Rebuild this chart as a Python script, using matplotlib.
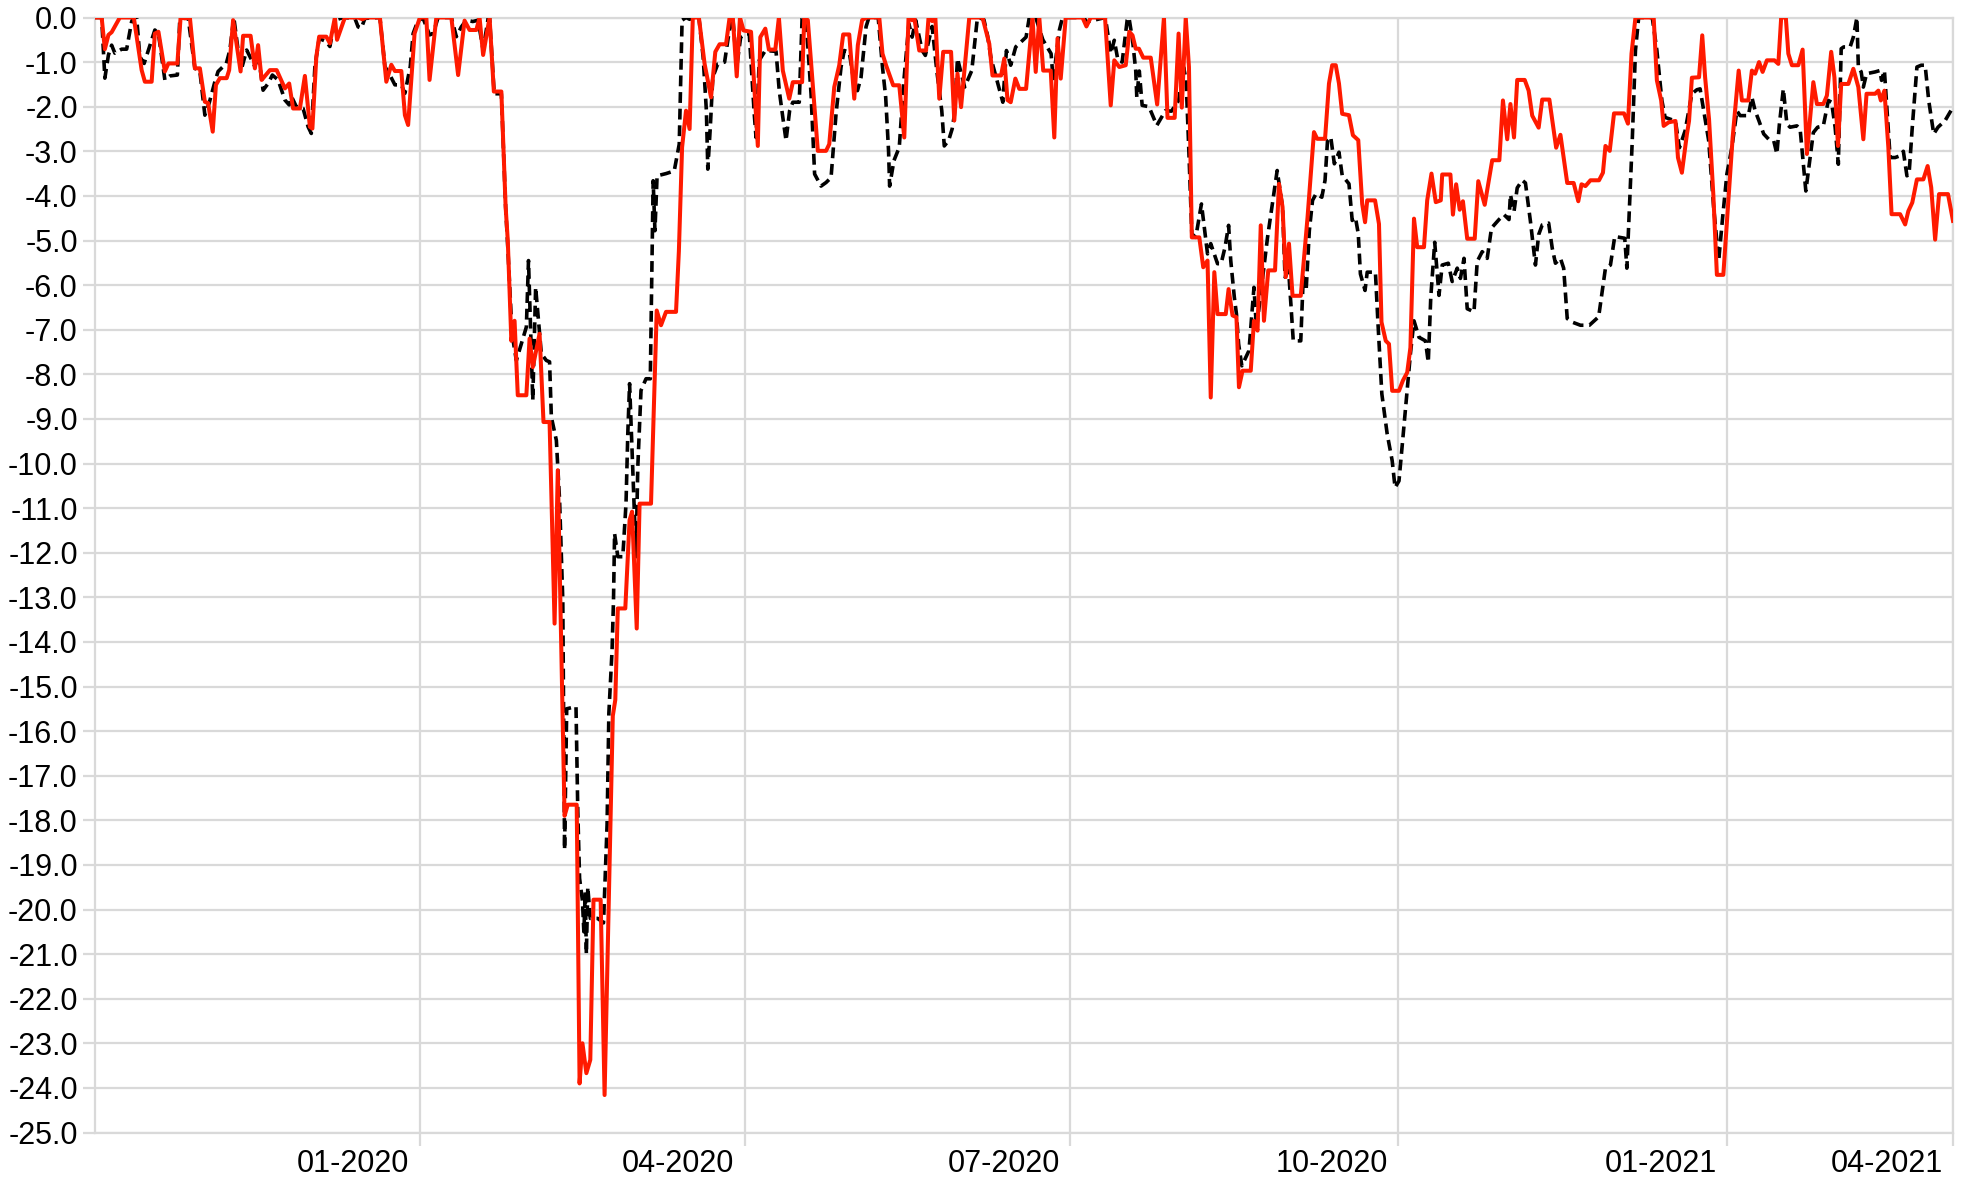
import matplotlib
matplotlib.use("Agg")
import matplotlib.pyplot as plt
import matplotlib.dates as mdates
import matplotlib.transforms as mtransforms
from matplotlib import font_manager
from matplotlib.ticker import FormatStrFormatter, MultipleLocator
import datetime as dt

# ---------------- data (days since 2019-10-02, drawdown in %) ----------------
start_date = dt.datetime(2019, 10, 2)
end_day = 520.3

red_days = [0, 2.0, 2.9, 3.9, 4.8, 7.1, 11.0, 13.2, 14.1, 16.0, 16.9, 17.9, 19.7, 20.7, 23.2, 24.1, 25.3, 26.7,
            28.1, 29.5, 30.9, 31.8, 33.1, 34.0, 35.1, 37.0, 37.7, 38.8, 40.9, 41.6, 43.7, 44.9, 45.8, 46.8, 49.1,
            51.0, 53.3, 54.5, 55.6, 57.5, 58.9, 60.3, 61.0, 62.1, 62.9, 64.9, 65.9, 67.3, 67.9, 70.1, 73.8, 75.0,
            76.1, 79.9, 81.7, 83.1, 84.1, 85.9, 86.9, 87.8, 89.6, 91.1, 92.9, 93.8, 95.7, 99.9, 101.8, 103.6,
            105.0, 106.9, 107.8, 108.8, 110.6, 111.8, 113.9, 115.1, 115.7, 116.7, 117.6, 118.5, 120.9, 121.8,
            122.7, 124.6, 125.7, 127.4, 128.8, 129.7, 131.6, 132.5, 135.0, 135.8, 136.6, 137.7, 138.8, 139.7,
            141.7, 142.8, 145.1, 145.8, 146.5, 148.6, 149.8, 150.5, 151.8, 152.6, 155.8, 157.4, 158.6, 160.0,
            162.8, 163.6, 164.5, 165.6, 166.6, 167.5, 169.2, 170.8, 172.6, 173.8, 175.0, 176.8, 177.8, 178.7,
            179.8, 180.7, 181.7, 183.8, 185.7, 186.4, 187.8, 188.8, 190.6, 191.6, 192.7, 194.5, 195.5, 198.1,
            198.7, 199.7, 202.5, 204.8, 205.7, 207.1, 208.5, 209.6, 211.3, 212.7, 213.7, 214.9, 216.2, 219.7,
            220.6, 221.6, 223.6, 225.3, 226.7, 227.9, 228.9, 229.5, 230.9, 232.8, 233.5, 234.5, 235.4, 236.5,
            237.6, 239.8, 240.7, 241.6, 242.6, 244.9, 248.6, 250.5, 251.4, 253.8, 254.7, 255.6, 256.5, 257.8,
            258.9, 260.8, 262.6, 263.5, 264.5, 265.6, 267.7, 268.7, 269.6, 270.5, 271.9, 276.6, 277.7, 278.9,
            282.9, 284.5, 285.5, 286.9, 288.7, 289.7, 290.6, 291.5, 292.4, 293.6, 295.7, 297.5, 299.4, 300.4,
            302.4, 303.5, 304.4, 305.5, 306.4, 307.2, 309.3, 310.4, 311.6, 312.5, 313.5, 314.4, 316.7, 317.5,
            318.6, 319.7, 320.4, 321.4, 323.7, 324.6, 325.6, 326.5, 327.4, 328.6, 330.5, 331.6, 332.6, 333.5,
            334.4, 335.4, 337.7, 339.6, 341.4, 342.3, 344.5, 345.6, 346.5, 347.5, 348.4, 349.3, 351.2, 352.3,
            353.8, 354.9, 355.7, 356.3, 358.5, 359.6, 360.3, 361.5, 362.4, 363.3, 365.2, 366.3, 367.5, 368.4,
            369.4, 370.3, 372.2, 373.1, 374.3, 375.5, 376.9, 377.3, 379.6, 380.3, 381.2, 382.2, 383.1, 384.3,
            386.4, 387.4, 389.2, 391.3, 393.3, 394.3, 395.5, 396.4, 397.4, 398.3, 400.4, 401.5, 402.5, 404.3,
            405.3, 407.3, 409.2, 410.4, 412.3, 414.1, 415.4, 416.3, 417.4, 418.8, 421.2, 422.3, 423.0, 424.2,
            425.4, 428.2, 429.3, 430.3, 431.4, 436.5, 437.4, 438.6, 439.3, 440.7, 442.6, 443.3, 444.4, 445.8,
            446.4, 447.2, 449.2, 450.1, 450.9, 452.0, 453.2, 454.2, 456.0, 457.5, 458.6, 460.3, 461.2, 463.0,
            464.0, 464.9, 466.0, 467.0, 468.2, 470.3, 471.4, 472.2, 473.5, 474.2, 475.2, 477.0, 478.2, 479.4,
            481.2, 482.2, 484.0, 485.0, 486.2, 487.1, 488.1, 489.0, 491.0, 492.4, 493.8, 495.2, 496.1, 498.5,
            499.4, 500.1, 501.1, 502.2, 503.1, 505.5, 506.9, 507.8, 508.9, 510.2, 512.0, 513.2, 514.2, 515.3,
            516.4, 518.9, 520.3]
red_vals = [0, 0, -0.71, -0.39, -0.33, 0, 0, -1.18, -1.44, -1.44, -0.36, -0.32, -1.21, -1.03, -1.03, 0, -0.02, 0,
            -1.14, -1.14, -1.89, -1.92, -2.56, -1.51, -1.36, -1.36, -1.18, -0.06, -1.21, -0.41, -0.41, -1.14, -0.62,
            -1.40, -1.18, -1.18, -1.59, -1.48, -2.04, -2.04, -1.31, -2.45, -2.49, -0.88, -0.43, -0.43, -0.58, 0,
            -0.50, 0, 0, -0.04, 0, 0, -1.44, -1.06, -1.20, -1.20, -2.19, -2.41, -0.36, 0, 0, -1.40, 0, 0, -1.29,
            -0.07, -0.28, -0.28, 0, -0.84, 0, -1.66, -1.66, -4.25, -5.0, -7.25, -6.8, -8.47, -8.47, -7.2, -7.84,
            -7.09, -9.07, -9.07, -13.59, -10.15, -17.9, -17.65, -17.65, -23.9, -23.0, -23.67, -23.37, -19.78,
            -19.78, -24.16, -15.66, -15.3, -13.25, -13.25, -11.27, -11.08, -13.7, -10.9, -10.9, -6.57, -6.9, -6.6,
            -6.6, -5.24, -2.91, -2.09, -2.5, 0, 0, -1.04, -1.79, -0.77, -0.6, -0.6, 0, 0, -1.32, 0, -0.29, -0.32,
            -2.88, -0.44, -0.25, -0.72, -0.72, 0, -1.19, -1.82, -1.45, -1.45, 0, -0.06, -2.99, -2.99, -2.84, -1.56,
            -1.07, -0.38, -0.38, -1.82, -0.62, -0.06, 0, 0, -0.81, -1.07, -1.52, -1.52, -2.69, 0, -0.06, 0, -0.74,
            -0.74, 0, -0.08, 0, -1.82, -0.77, -0.77, -2.31, -1.26, -2.01, 0, 0, -0.59, -1.3, -1.3, -0.92, -1.85,
            -1.9, -1.37, -1.6, -1.6, 0, -1.22, 0, -1.19, -1.19, -2.69, -0.47, -1.37, 0, 0, -0.2, 0, 0, -1.97, -0.96,
            -1.11, -1.07, -0.32, -0.4, -0.7, -0.7, -0.9, -0.9, -1.95, 0, -2.25, -2.25, -0.36, -2.02, 0, -1.11,
            -4.93, -4.93, -5.6, -5.45, -8.52, -5.71, -6.65, -6.65, -6.09, -6.68, -6.72, -8.29, -7.92, -7.92, -6.8,
            -7.02, -4.66, -6.8, -5.67, -5.67, -3.73, -4.25, -5.82, -5.07, -6.24, -6.24, -4.48, -2.57, -2.72, -2.72,
            -1.48, -1.07, -1.07, -1.48, -2.16, -2.19, -2.64, -2.75, -4.18, -4.59, -4.1, -4.1, -4.63, -6.83, -7.25,
            -7.32, -8.37, -8.37, -8.14, -7.96, -7.4, -4.51, -5.15, -5.15, -4.1, -3.5, -4.14, -4.1, -3.52, -3.52,
            -4.42, -3.74, -4.31, -4.12, -4.96, -4.96, -3.67, -4.2, -3.2, -3.2, -1.86, -2.73, -1.94, -2.69, -1.4,
            -1.4, -1.64, -2.2, -2.47, -1.84, -1.84, -2.92, -2.63, -3.71, -3.71, -4.12, -3.74, -3.78, -3.65, -3.65,
            -3.48, -2.88, -2.99, -2.15, -2.15, -2.38, -0.81, 0, 0, -1.41, -1.86, -2.43, -2.35, -2.32, -3.14, -3.48,
            -2.62, -2.32, -1.35, -1.34, -0.4, -1.34, -2.28, -3.97, -5.77, -5.77, -4.0, -2.7, -1.19, -1.86, -1.86,
            -1.19, -1.26, -1.0, -1.22, -0.96, -0.96, -1.04, 0, 0, -0.81, -1.07, -1.07, -0.72, -3.06, -1.45, -1.94,
            -1.94, -1.75, -0.77, -1.34, -2.88, -1.49, -1.49, -1.15, -1.56, -2.73, -1.71, -1.71, -1.64, -1.86, -1.64,
            -2.91, -4.41, -4.41, -4.64, -4.34, -4.15, -3.63, -3.63, -3.33, -3.81, -4.98, -3.96, -3.96, -4.56]

black_days = [0, 2.0, 2.9, 3.9, 4.8, 5.7, 7.6, 9.0, 10.4, 10.9, 11.8, 12.7, 13.9, 16.9, 17.9, 19.7, 21.1, 23.2,
              23.9, 26.2, 28.1, 29.5, 30.9, 32.1, 33.7, 34.6, 36.9, 37.9, 39.0, 40.2, 41.2, 42.6, 44.9, 45.8, 47.2,
              48.6, 49.8, 51.4, 53.3, 54.5, 55.2, 56.5, 58.4, 59.8, 60.7, 61.7, 62.9, 64.9, 65.9, 67.3, 69.6, 72.9,
              73.8, 74.7, 75.7, 79.9, 81.3, 82.7, 84.1, 85.9, 86.9, 88.4, 89.2, 90.6, 92.0, 93.8, 94.8, 96.2, 99.9,
              101.3, 102.7, 104.1, 105.9, 107.4, 108.8, 110.2, 110.6, 111.9, 113.9, 115.1, 115.7, 116.9, 118.1,
              120.9, 121.5, 122.7, 123.5, 125.1, 126.5, 127.4, 127.9, 129.3, 130.2, 131.1, 131.6, 132.2, 134.8,
              135.3, 135.8, 136.6, 137.0, 137.4, 137.7, 138.1, 138.8, 140.9, 142.5, 143.5, 144.0, 144.9, 145.3,
              145.6, 146.5, 147.9, 148.8, 149.3, 149.8, 150.5, 151.6, 152.1, 153.0, 154.4, 155.6, 156.4, 156.9,
              157.5, 160.0, 162.3, 163.7, 164.5, 165.6, 166.6, 167.5, 169.2, 170.4, 171.3, 171.7, 172.4, 173.1,
              174.5, 176.4, 177.7, 178.7, 179.8, 180.9, 182.3, 183.3, 184.7, 185.2, 186.1, 187.8, 190.8, 191.7,
              192.7, 193.6, 194.6, 195.5, 197.3, 198.1, 199.2, 200.6, 201.6, 203.4, 204.8, 206.2, 207.6, 209.0,
              209.9, 211.3, 212.7, 213.6, 214.6, 216.0, 216.8, 219.4, 220.6, 221.5, 222.3, 222.6, 223.8, 225.3,
              226.5, 228.0, 228.9, 229.9, 231.7, 232.6, 233.8, 234.5, 235.8, 237.2, 237.9, 239.1, 240.1, 240.7,
              241.6, 243.6, 245.6, 247.1, 247.6, 249.0, 250.0, 251.0, 254.3, 255.3, 256.5, 257.9, 260.8, 261.7,
              263.5, 265.5, 267.8, 268.4, 270.1, 271.0, 277.0, 277.7, 283.0, 284.5, 285.5, 286.5, 287.7, 289.1,
              289.6, 290.6, 291.5, 291.8, 292.5, 293.3, 295.2, 297.4, 299.8, 301.5, 303.5, 304.9, 305.6, 306.4,
              307.2, 308.3, 309.9, 311.6, 312.5, 314.4, 315.4, 316.5, 317.5, 318.1, 319.1, 319.7, 320.3, 321.2,
              323.2, 324.6, 325.3, 328.4, 331.1, 332.6, 333.3, 334.3, 335.0, 335.6, 337.7, 338.4, 339.2, 340.1,
              341.0, 342.0, 343.6, 344.5, 345.2, 346.1, 347.1, 348.4, 349.3, 351.2, 352.1, 353.0, 353.8, 354.4,
              355.7, 356.3, 358.6, 359.3, 360.4, 361.9, 363.3, 364.1, 365.2, 366.3, 368.4, 369.4, 370.8, 372.6,
              373.4, 374.1, 375.2, 376.4, 377.3, 379.0, 380.1, 381.5, 382.4, 383.4, 384.3, 386.2, 387.1, 388.5,
              389.9, 391.1, 393.2, 394.6, 396.0, 396.4, 397.4, 398.3, 399.7, 400.6, 402.0, 403.4, 404.3, 405.3,
              407.1, 408.1, 409.0, 410.4, 411.3, 412.3, 413.7, 416.0, 418.5, 421.1, 423.0, 424.4, 425.6, 428.4,
              429.0, 430.5, 431.4, 432.3, 436.1, 437.4, 438.8, 439.7, 442.6, 443.7, 445.3, 447.2, 448.6, 449.5,
              451.9, 453.3, 454.7, 455.8, 457.0, 458.4, 459.8, 460.7, 463.0, 464.0, 464.9, 465.9, 467.3, 468.7,
              470.1, 471.0, 471.7, 472.8, 473.8, 474.7, 476.6, 477.5, 479.1, 481.2, 482.4, 484.0, 485.4, 486.3,
              487.3, 488.2, 489.0, 489.7, 491.5, 492.4, 493.4, 493.8, 494.6, 495.2, 496.1, 498.5, 499.8, 500.3,
              501.1, 502.7, 504.1, 505.5, 506.4, 507.4, 508.0, 508.9, 510.2, 511.4, 512.5, 513.5, 514.9, 516.1,
              518.1, 520.3]
black_vals = [0, 0, -1.36, -0.84, -0.62, -0.80, -0.71, -0.71, -0.09, 0, 0, -0.88, -1.03, -0.28, -0.36, -1.40,
              -1.31, -1.29, 0, 0, -1.14, -1.21, -2.19, -1.92, -1.44, -1.21, -1.03, -0.73, 0, -0.73, -1.14, -0.73,
              -1.10, -0.80, -1.63, -1.48, -1.29, -1.40, -1.85, -1.96, -1.78, -2.0, -2.04, -2.45, -2.60, -1.10, -0.47,
              -0.54, -0.65, -0.06, 0, -0.02, -0.21, -0.24, -0.02, 0, -1.10, -1.29, -1.51, -1.51, -1.70, -1.10, -0.36,
              -0.06, -0.02, -0.39, -0.36, 0, 0, -0.43, -0.21, -0.06, -0.09, -0.06, -0.73, -0.02, 0, -1.71, -1.71,
              -4.25, -5.15, -7.1, -7.69, -6.94, -5.45, -8.58, -6.05, -7.54, -7.69, -7.72, -8.96, -9.48, -10.82,
              -13.06, -18.66, -15.5, -15.45, -17.8, -19.3, -19.8, -20.5, -19.6, -21.0, -19.5, -20.2, -20.2, -20.3,
              -18.1, -15.6, -14.18, -13.06, -11.57, -12.09, -12.09, -10.9, -9.33, -8.21, -9.7, -12.09, -10.08,
              -8.36, -8.1, -8.1, -3.66, -4.78, -3.55, -3.5, -3.44, -2.84, -0.06, 0, -0.04, 0, 0, -0.89, -2.09, -3.4,
              -2.46, -1.34, -1.04, -1.0, -0.3, 0, -1.1, -0.44, -0.36, -0.36, -2.16, -2.69, -0.96, -0.74, -0.76,
              -1.64, -2.24, -2.76, -2.09, -1.9, -1.9, 0, -0.06, -1.71, -3.51, -3.78, -3.7, -3.59, -2.16, -1.11, -0.74,
              -0.78, -1.49, -1.64, -1.34, -0.21, 0, 0, -1.11, -1.79, -2.99, -3.78, -3.21, -2.91, -1.5, -0.14, -0.44,
              -0.06, -0.74, -0.85, -0.44, -0.2, -1.19, -2.09, -2.88, -2.76, -2.5, -2.2, -0.92, -1.56, -1.19, -0.06,
              0, -0.05, -0.4, -0.92, -1.9, -0.74, -1.07, -0.66, -0.44, 0, 0, -0.5, -0.81, -1.41, -0.29, 0, 0, -0.1,
              0, -0.81, -0.51, -0.95, -1.0, -0.06, 0, -0.5, -1.19, -1.79, -1.2, -1.97, -2.0, -2.42, -2.09, -2.1,
              -1.86, -1.11, -1.4, -3.05, -4.85, -4.93, -4.18, -5.3, -5.07, -5.52, -5.52, -5.15, -4.66, -5.45, -6.27,
              -6.65, -7.32, -7.81, -7.47, -6.05, -6.98, -4.93, -3.43, -4.25, -5.82, -5.67, -6.5, -7.25, -7.25, -5.82,
              -6.12, -4.78, -4.1, -3.95, -4.03, -3.65, -2.75, -2.68, -3.28, -3.02, -3.54, -3.73, -4.55, -4.48, -4.85,
              -5.75, -6.12, -5.71, -5.71, -6.83, -8.44, -9.34, -9.94, -10.54, -10.39, -9.42, -7.54, -6.8, -7.17,
              -7.25, -7.73, -6.27, -5.04, -6.23, -5.55, -5.51, -5.92, -5.62, -5.85, -5.4, -6.53, -6.6, -5.47, -5.25,
              -5.4, -4.72, -4.53, -4.42, -4.53, -3.97, -4.35, -3.82, -3.65, -3.71, -4.57, -5.55, -4.87, -4.65, -4.61,
              -5.17, -5.51, -5.4, -5.62, -6.75, -6.83, -6.9, -6.9, -6.71, -5.62, -5.55, -4.91, -4.95, -5.62, -2.77,
              -0.74, 0, 0, -0.74, -1.86, -2.24, -2.32, -2.92, -2.54, -1.71, -1.62, -1.6, -2.76, -4.26, -5.45, -4.49,
              -3.51, -2.91, -2.09, -2.2, -2.2, -1.79, -2.09, -2.3, -2.61, -2.73, -2.76, -3.06, -2.39, -1.6, -2.39,
              -2.46, -2.43, -2.5, -3.89, -2.58, -2.46, -2.43, -1.86, -1.9, -2.46, -3.29, -0.7, -0.66, -0.66, -0.44,
              0, -1.11, -1.22, -1.56, -1.26, -1.22, -1.19, -1.41, -1.19, -3.14, -3.14, -3.1, -3.0, -3.55, -3.51,
              -2.46, -1.11, -1.07, -1.07, -1.86, -2.61, -2.46, -2.31, -2.01]

tick_dates = [dt.datetime(2020, 1, 1), dt.datetime(2020, 4, 1), dt.datetime(2020, 7, 1),
              dt.datetime(2020, 10, 1), dt.datetime(2021, 1, 1)]
tick_labels = ["01-2020", "04-2020", "07-2020", "10-2020", "01-2021", "04-2021"]

# ---------------- styling ----------------
names = {f.name for f in font_manager.fontManager.ttflist}
family = "Liberation Sans Narrow" if "Liberation Sans Narrow" in names else "Liberation Sans"
plt.rcParams["font.family"] = [family, "DejaVu Sans"]

W, H, DPI = 1971, 1183, 100
fig = plt.figure(figsize=(W / DPI, H / DPI), dpi=DPI)
left, right, top, bottom = 94.5, 1953, 17.5, 1132.5
ax = fig.add_axes([left / W, 1 - bottom / H, (right - left) / W, (bottom - top) / H])

x0 = mdates.date2num(start_date)
red_x = [x0 + d for d in red_days]
black_x = [x0 + d for d in black_days]

grid_c = "#d9d9d9"
ax.plot(black_x, black_vals, color="black", lw=2.6, ls=(0, (3.0, 1.6)), zorder=3)
ax.plot(red_x, red_vals, color="#ff1a00", lw=2.9, zorder=4)

ax.set_xlim(x0, x0 + end_day)
ax.set_ylim(-25, 0)

# y axis
ax.yaxis.set_major_locator(MultipleLocator(1))
ax.yaxis.set_major_formatter(FormatStrFormatter("%.1f"))
# x axis: gridlines at quarter starts + right edge
xt = [mdates.date2num(d) for d in tick_dates] + [x0 + end_day]
ax.set_xticks(xt)
ax.set_xticklabels(tick_labels)

ax.grid(True, color=grid_c, lw=1.6, zorder=0)
ax.set_axisbelow(True)
for s in ax.spines.values():
    s.set_color(grid_c)
    s.set_linewidth(1.6)

ax.tick_params(axis="both", direction="out", length=9, width=1.6, color=grid_c,
               labelsize=22, labelcolor="black")
ax.tick_params(axis="y", pad=3)
ax.tick_params(axis="x", pad=3)

offset = mtransforms.ScaledTranslation(-10 / DPI, 0, fig.dpi_scale_trans)
for lab in ax.get_xticklabels():
    lab.set_horizontalalignment("right")
    lab.set_transform(lab.get_transform() + offset)

fig.savefig("out.png", dpi=DPI, facecolor="white")
